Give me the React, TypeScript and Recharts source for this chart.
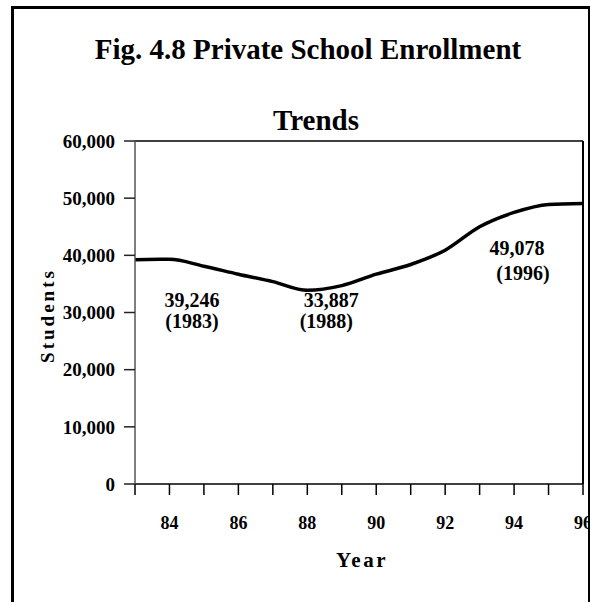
import React from 'react';
import { LineChart, Line, XAxis, YAxis, ReferenceLine, ReferenceDot } from 'recharts';

const years = [83, 84, 85, 86, 87, 88, 89, 90, 91, 92, 93, 94, 95, 96];
const students = [39246, 39300, 38100, 36700, 35400, 33887, 34700, 36700, 38400, 40900, 45000, 47500, 48900, 49078];
const yTicks = [0, 10000, 20000, 30000, 40000, 50000, 60000];
const xTicks = years;
const labeledYears = [84, 86, 88, 90, 92, 94, 96];

const noteYears = [83, 88, 96];
const noteValues = [39246, 33887, 49078];
const noteLines = [
  ['39,246', '(1983)'],
  ['33,887', '(1988)'],
  ['49,078', '(1996)'],
];
// offsets (px) of each text line from its data point: [dx, dy]
const noteOffsets = [
  [[57, 47], [57, 68]],
  [[24, 17], [19, 38]],
  [[-66, 52], [-60, 77]],
];

const titleLines = ['Fig. 4.8 Private School Enrollment', 'Trends'];

const data = years.map((y, i) => ({ year: y, students: students[i] }));

const FONT = '"Liberation Serif", "Times New Roman", serif';

const XTick = (props: any) => {
  const { x, y, payload } = props;
  if (!labeledYears.includes(payload.value)) return <g />;
  return (
    <text x={x} y={y} dy="0.71em" textAnchor="middle" fontFamily={FONT} fontWeight={700} fontSize={18} fill="#000">
      {payload.value}
    </text>
  );
};

const fmt = (v: number) => v.toLocaleString('en-US');

const NoteLabel = (idx: number) => (props: any) => {
  const vb = props.viewBox || {};
  const cx = vb.cx !== undefined ? vb.cx : vb.x + (vb.width || 0) / 2;
  const cy = vb.cy !== undefined ? vb.cy : vb.y + (vb.height || 0) / 2;
  return (
    <g>
      {noteLines[idx].map((t, j) => (
        <text key={j} x={cx + noteOffsets[idx][j][0]} y={cy + noteOffsets[idx][j][1]} textAnchor="middle"
          fontFamily={FONT} fontWeight={700} fontSize={20} fill="#000">{t}</text>
      ))}
    </g>
  );
};

const YLabel = (props: any) => {
  const vb = props.viewBox;
  const cy = vb.y + vb.height / 2 + 3;
  const cx = 47;
  return (
    <text x={cx} y={cy} transform={`rotate(-90, ${cx}, ${cy})`} textAnchor="middle" dominantBaseline="central"
      fontFamily={FONT} fontWeight={700} fontSize={19} letterSpacing={3} fill="#000">Students</text>
  );
};

const XLabel = (props: any) => {
  const vb = props.viewBox;
  const cx = vb.x + vb.width / 2 + 3;
  return (
    <text x={cx} y={567} textAnchor="middle" fontFamily={FONT} fontWeight={700} fontSize={21} letterSpacing={2.5} fill="#000">Year</text>
  );
};

export default function App() {
  return (
    <div style={{ position: 'absolute', left: 0, top: 0, width: 590, height: 602, background: '#fff', overflow: 'hidden' }}>
      <div style={{ position: 'absolute', left: 11, top: 6, width: 574, height: 640, borderLeft: '3px solid #000', borderTop: '3px solid #000', borderRight: '2px solid #000' }} />
      <LineChart width={590} height={602} data={data} margin={{ top: 141, right: 7, bottom: 0, left: 0 }}>
        <XAxis dataKey="year" type="number" domain={[83, 96]} ticks={xTicks} interval={0} tick={<XTick />} height={118}
          tickSize={11} tickMargin={21} stroke="#000" strokeWidth={1.5} tickLine={{ stroke: '#000', strokeWidth: 1.5 }}
          label={<XLabel />} allowDataOverflow />
        <YAxis type="number" domain={[0, 60000]} ticks={yTicks} interval={0} width={135} tickSize={11} tickMargin={9}
          tickFormatter={fmt} stroke="#555" strokeWidth={1.5} tickLine={{ stroke: '#222', strokeWidth: 1.5 }}
          tick={{ fontFamily: FONT, fontWeight: 700, fontSize: 19, fill: '#000' }} label={<YLabel />} />
        <ReferenceLine y={60000} stroke="#000" strokeWidth={1.5} />
        <ReferenceLine x={96} stroke="#000" strokeWidth={2} />
        <Line type="monotone" dataKey="students" stroke="#000" strokeWidth={3.5} dot={false} isAnimationActive={false} />
        {noteYears.map((y, i) => (
          <ReferenceDot key={i} x={y} y={noteValues[i]} r={0} fill="none" stroke="none" label={NoteLabel(i)} />
        ))}
      </LineChart>
      <svg width={590} height={602} style={{ position: 'absolute', left: 0, top: 0, pointerEvents: 'none' }}>
        <text x={308} y={59} textAnchor="middle" fontFamily={FONT} fontWeight={700} fontSize={29} fill="#000">{titleLines[0]}</text>
        <text x={316} y={130} textAnchor="middle" fontFamily={FONT} fontWeight={700} fontSize={29} fill="#000">{titleLines[1]}</text>
      </svg>
    </div>
  );
}
